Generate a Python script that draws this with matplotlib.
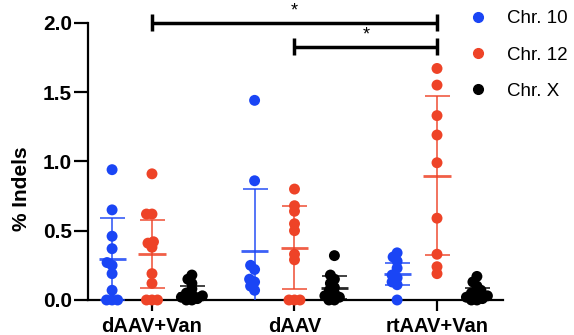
import matplotlib
matplotlib.use("Agg")
import matplotlib.pyplot as plt
from matplotlib.lines import Line2D
import numpy as np

plt.rcParams['font.family'] = ['Liberation Sans', 'DejaVu Sans']

# data
groups = ['dAAV+Van', 'dAAV', 'rtAAV+Van']
series = ['Chr. 10', 'Chr. 12', 'Chr. X']
colors = ['#1a45f5', '#ee4327', '#000000']

chr10 = [[0.94, 0.65, 0.46, 0.37, 0.27, 0.25, 0.19, 0.07, 0, 0, 0],
         [1.44, 0.86, 0.25, 0.22, 0.15, 0.13, 0.10, 0.07],
         [0.34, 0.31, 0.28, 0.23, 0.18, 0.16, 0.13, 0.11, 0.0]]
chr12 = [[0.91, 0.62, 0.62, 0.42, 0.41, 0.38, 0.19, 0.12, 0, 0, 0],
         [0.80, 0.68, 0.64, 0.55, 0.50, 0.33, 0.29, 0, 0, 0],
         [1.67, 1.55, 1.33, 1.19, 0.99, 0.59, 0.33, 0.24, 0.19]]
chrx = [[0.18, 0.15, 0.12, 0.08, 0.05, 0.04, 0.03, 0.02, 0.01, 0, 0],
        [0.32, 0.18, 0.15, 0.12, 0.09, 0.07, 0.05, 0.03, 0.02, 0, 0],
        [0.17, 0.13, 0.10, 0.07, 0.05, 0.04, 0.03, 0.02, 0.01, 0, 0]]

chr10_mean = [0.294, 0.354, 0.19]
chr10_sd = [0.295, 0.446, 0.08]
chr12_mean = [0.33, 0.377, 0.897]
chr12_sd = [0.247, 0.30, 0.576]
chrx_mean = [0.048, 0.09, 0.04]
chrx_sd = [0.05, 0.08, 0.045]

# significance brackets: (group a, group b, height)
brackets = [(0, 2, 2.0), (1, 2, 1.827)]

all_points = [chr10, chr12, chrx]
all_means = [chr10_mean, chr12_mean, chrx_mean]
all_sds = [chr10_sd, chr12_sd, chrx_sd]

W, H, DPI = 5.74, 3.35, 100
fig = plt.figure(figsize=(W, H), dpi=DPI)
ax = fig.add_axes([0.1533, 0.1045, 0.723, 0.8277])
xlim = (-0.449, 2.463)
ylim = (0, 2.0)
ax.set_xlim(*xlim)
ax.set_ylim(*ylim)

# pixels per data unit, for the swarm layout
px_x = 0.723 * W * DPI / (xlim[1] - xlim[0])
px_y = 0.8277 * H * DPI / (ylim[1] - ylim[0])


def swarm(vals, diam=5.5):
    """simple beeswarm: x offsets (data units) so dots don't pile up"""
    ys = np.asarray(vals) * px_y
    offs = np.zeros(len(ys))
    placed = []
    cands = sorted([s * k * 0.5 for k in range(0, 40) for s in (-1, 1)], key=lambda c: (abs(c), c))
    for i in np.argsort(ys):
        for c in cands:
            if all((c - px) ** 2 + (ys[i] - py) ** 2 >= diam ** 2 for px, py in placed):
                offs[i] = c
                placed.append((c, ys[i]))
                break
    return offs / px_x


col_off = 0.28
for s in range(3):
    for g in range(3):
        xc = g + (s - 1) * col_off
        vals = all_points[s][g]
        xs = xc + swarm(vals)
        ax.scatter(xs, vals, s=62, color=colors[s], edgecolors='none',
                   zorder=3, clip_on=False)
        m = all_means[s][g]
        sd = all_sds[s][g]
        ax.errorbar(xc, m, yerr=sd, fmt='none', ecolor=colors[s], alpha=0.8,
                    elinewidth=1.3, capsize=9, capthick=1.3, zorder=4)
        ax.hlines(m, xc - 0.095, xc + 0.095, color=colors[s], alpha=0.85,
                  lw=2, zorder=4)

# brackets with stars
tick_h = 0.063
for a, b, h in brackets:
    ax.plot([a, b], [h, h], color='black', lw=2.5, clip_on=False, zorder=5,
            solid_capstyle='butt')
    for xe in (a, b):
        ax.plot([xe, xe], [h - tick_h, h + tick_h], color='black', lw=2.5,
                clip_on=False, zorder=5, solid_capstyle='butt')
    ax.text((a + b) / 2, h + 0.025, '*', ha='center', va='bottom',
            fontsize=13, zorder=5)

for side in ('top', 'right'):
    ax.spines[side].set_visible(False)
for side in ('left', 'bottom'):
    ax.spines[side].set_linewidth(1.6)

ax.set_yticks([0, 0.5, 1.0, 1.5, 2.0])
ax.set_yticklabels(['0.0', '0.5', '1.0', '1.5', '2.0'], fontsize=15, fontweight='bold')
ax.set_xticks(range(len(groups)))
ax.set_xticklabels(groups, fontsize=14.5, fontweight='bold')
ax.tick_params(axis='y', length=10, width=1.6, pad=1.5)
ax.tick_params(axis='x', length=8, width=1.6, pad=4)
ax.set_ylabel('% Indels', fontsize=15, fontweight='bold')
ax.yaxis.set_label_coords(-0.137, 0.40)

handles = [Line2D([], [], marker='o', ls='none', color=c, markersize=7) for c in colors]
ax.legend(handles, series, loc='upper left', bbox_to_anchor=(0.9217, 1.045),
          frameon=False, fontsize=13.5, handlelength=0.8, handletextpad=1.15,
          labelspacing=1.02, borderaxespad=0, borderpad=0)

fig.savefig('out.png', dpi=DPI)
